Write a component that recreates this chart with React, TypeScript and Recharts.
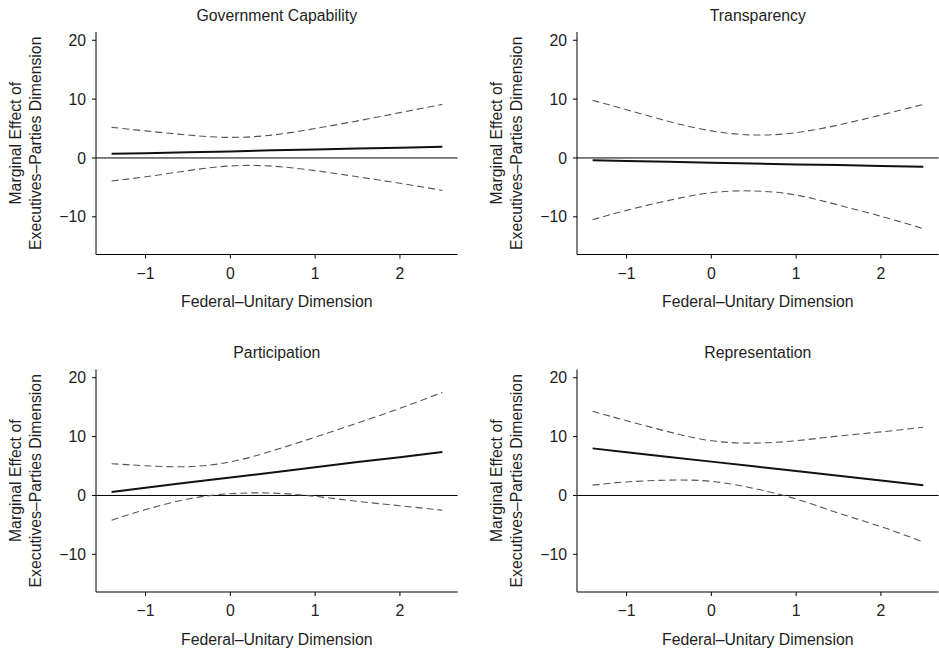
import { CartesianGrid, Line, LineChart, ReferenceLine, XAxis, YAxis } from 'recharts'

// Marginal effect of the executives-parties dimension, four outcome panels.
// Values at fixed x positions.

const xs = [-1.4, -1, -0.5, 0, 0.5, 1, 1.5, 2, 2.5]

const govEst = [0.7, 0.8, 0.95, 1.1, 1.3, 1.45, 1.6, 1.75, 1.9]
const govLow = [-3.9, -3.2, -2.15, -1.35, -1.4, -2.15, -3.2, -4.3, -5.5]
const govHigh = [5.2, 4.6, 3.9, 3.5, 3.9, 5.0, 6.3, 7.7, 9.1]

const traEst = [-0.4, -0.5, -0.65, -0.8, -0.95, -1.1, -1.2, -1.35, -1.5]
const traLow = [-10.5, -8.9, -7.2, -5.9, -5.6, -6.3, -8.0, -9.9, -12.0]
const traHigh = [9.8, 8.2, 6.2, 4.6, 3.9, 4.3, 5.6, 7.3, 9.1]

const parEst = [0.6, 1.3, 2.2, 3.05, 3.9, 4.8, 5.7, 6.5, 7.4]
const parLow = [-4.2, -2.4, -0.6, 0.3, 0.4, -0.15, -1.0, -1.75, -2.5]
const parHigh = [5.4, 5.05, 4.9, 5.7, 7.6, 9.9, 12.3, 14.8, 17.5]

const repEst = [8.0, 7.35, 6.55, 5.75, 4.95, 4.15, 3.35, 2.55, 1.75]
const repLow = [1.75, 2.3, 2.6, 2.4, 1.2, -0.6, -3.0, -5.3, -7.9]
const repHigh = [14.3, 12.7, 10.8, 9.3, 8.9, 9.3, 10.1, 10.8, 11.6]

const titles = ['Government Capability', 'Transparency', 'Participation', 'Representation']
const xTicks = [-1, 0, 1, 2]
const yTicks = [-10, 0, 10, 20]
const xLabel = 'Federal\u2013Unitary Dimension'
const yLabel1 = 'Marginal Effect of'
const yLabel2 = 'Executives\u2013Parties Dimension'

const FONT = '"Liberation Sans", Arial, Helvetica, sans-serif'
const FS = 15.8
const TXT = '#1e1e1e'

const rows = (est: number[], low: number[], high: number[]) =>
  xs.map((x, i) => ({ x, est: est[i], low: low[i], high: high[i] }))

const panels = [
  { data: rows(govEst, govLow, govHigh), left: 0, top: 0, w: 469, h: 320, pl: 96, pt: 32 },
  { data: rows(traEst, traLow, traHigh), left: 469, top: 0, w: 470, h: 320, pl: 577, pt: 32 },
  { data: rows(parEst, parLow, parHigh), left: 0, top: 330, w: 469, h: 321, pl: 96, pt: 369.5 },
  { data: rows(repEst, repLow, repHigh), left: 469, top: 330, w: 470, h: 321, pl: 577, pt: 369.5 },
]

const PW = 361.6
const PH = 222.5
const YW = 40
const XH = 30

const fmt = (v: number) => String(v).replace('-', '\u2212')

function Panel({ p }: { p: (typeof panels)[number] }) {
  const ml = p.pl - p.left - YW
  const mt = p.pt - p.top
  const mr = p.w - (p.pl - p.left + PW)
  const mb = p.h - mt - PH - XH
  const tick = { fill: TXT, fontSize: FS, fontFamily: FONT }
  return (
    <div style={{ position: 'absolute', left: p.left, top: p.top, width: p.w, height: p.h }}>
      <LineChart width={p.w} height={p.h} data={p.data} margin={{ top: mt, right: mr, bottom: mb, left: ml }}>
        <CartesianGrid stroke="none" />
        <XAxis
          type="number"
          dataKey="x"
          domain={[-1.584, 2.68]}
          ticks={xTicks}
          allowDataOverflow
          tickFormatter={fmt}
          tick={tick}
          tickSize={4}
          tickMargin={9}
          height={XH}
          axisLine={{ stroke: '#000' }}
          tickLine={{ stroke: '#000' }}
        />
        <YAxis
          type="number"
          domain={[-16.4, 21.4]}
          ticks={yTicks}
          allowDataOverflow
          tickFormatter={fmt}
          tick={tick}
          tickSize={4}
          tickMargin={6}
          width={YW}
          axisLine={{ stroke: '#000' }}
          tickLine={{ stroke: '#000' }}
        />
        <ReferenceLine y={0} stroke="#000" strokeWidth={1} />
        <Line dataKey="high" type="natural" stroke="#555" strokeWidth={1.1} strokeDasharray="7 4" dot={false} isAnimationActive={false} />
        <Line dataKey="low" type="natural" stroke="#555" strokeWidth={1.1} strokeDasharray="7 4" dot={false} isAnimationActive={false} />
        <Line dataKey="est" type="linear" stroke="#111" strokeWidth={2} dot={false} isAnimationActive={false} />
      </LineChart>
    </div>
  )
}

export default function App() {
  return (
    <div style={{ position: 'absolute', left: 0, top: 0, width: 939, height: 651, background: '#fff', overflow: 'hidden' }}>
      {panels.map((p, i) => (
        <Panel key={titles[i]} p={p} />
      ))}
      <svg width={939} height={651} style={{ position: 'absolute', left: 0, top: 0, pointerEvents: 'none' }}>
        {panels.map((p, i) => {
          const cx = p.pl + PW / 2
          const cy = p.pt + PH / 2
          const yl = p.pl - 75
          return (
            <g key={i} fontFamily={FONT} fontSize={FS} fill={TXT} textAnchor="middle">
              <text x={cx} y={p.pt - 11.5}>{titles[i]}</text>
              <text x={cx} y={p.pt + 275}>{xLabel}</text>
              <text transform={`translate(${yl}, ${cy}) rotate(-90)`}>{yLabel1}</text>
              <text transform={`translate(${yl + 19.7}, ${cy}) rotate(-90)`}>{yLabel2}</text>
            </g>
          )
        })}
      </svg>
    </div>
  )
}
